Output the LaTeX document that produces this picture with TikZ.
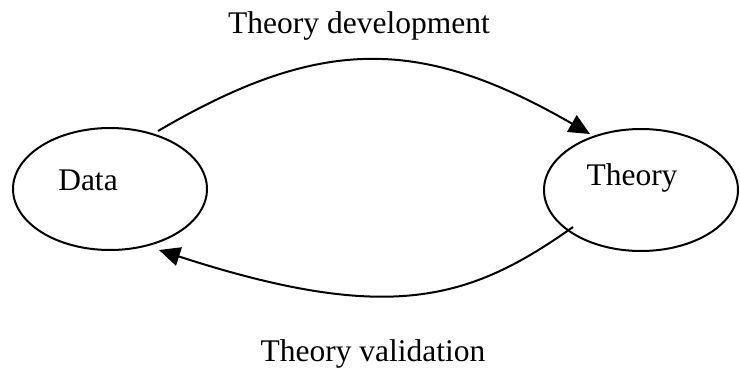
\documentclass[tikz,border=0pt]{standalone}
\usepackage{fontspec}
\setmainfont{Liberation Serif}
\usetikzlibrary{shapes.geometric,arrows.meta}
\begin{document}
\begin{tikzpicture}[x=1pt,y=-1pt,
  oval/.style={draw,ellipse,line width=2pt,minimum width=194pt,minimum height=122pt,inner sep=0pt},
  txt/.style={font=\fontsize{31.5}{36}\selectfont,inner sep=0pt},
  flow/.style={line width=2pt,-{Triangle[length=21pt,width=19pt]}}]
\useasboundingbox (0,0) rectangle (740,378);
\node[oval] (data) at (110,189) {};
\node[oval] (theory) at (641,190) {};
\node[txt] (datat) at (88,180) {Data};
\node[txt] (theoryt) at (632,178) {Theory};
\node[txt] (dev) at (359,26) {Theory development};
\node[txt] (val) at (373,354) {Theory validation};
\coordinate (s1) at (158,131);
\coordinate (e1) at (590,134);
\coordinate (s2) at (573,227);
\coordinate (e2) at (159,250);
\draw[flow] (s1) .. controls (320,36) and (420,36) .. (e1);
\draw[flow] (s2) .. controls (470,300) and (390,325) .. (e2);
\end{tikzpicture}
\end{document}
